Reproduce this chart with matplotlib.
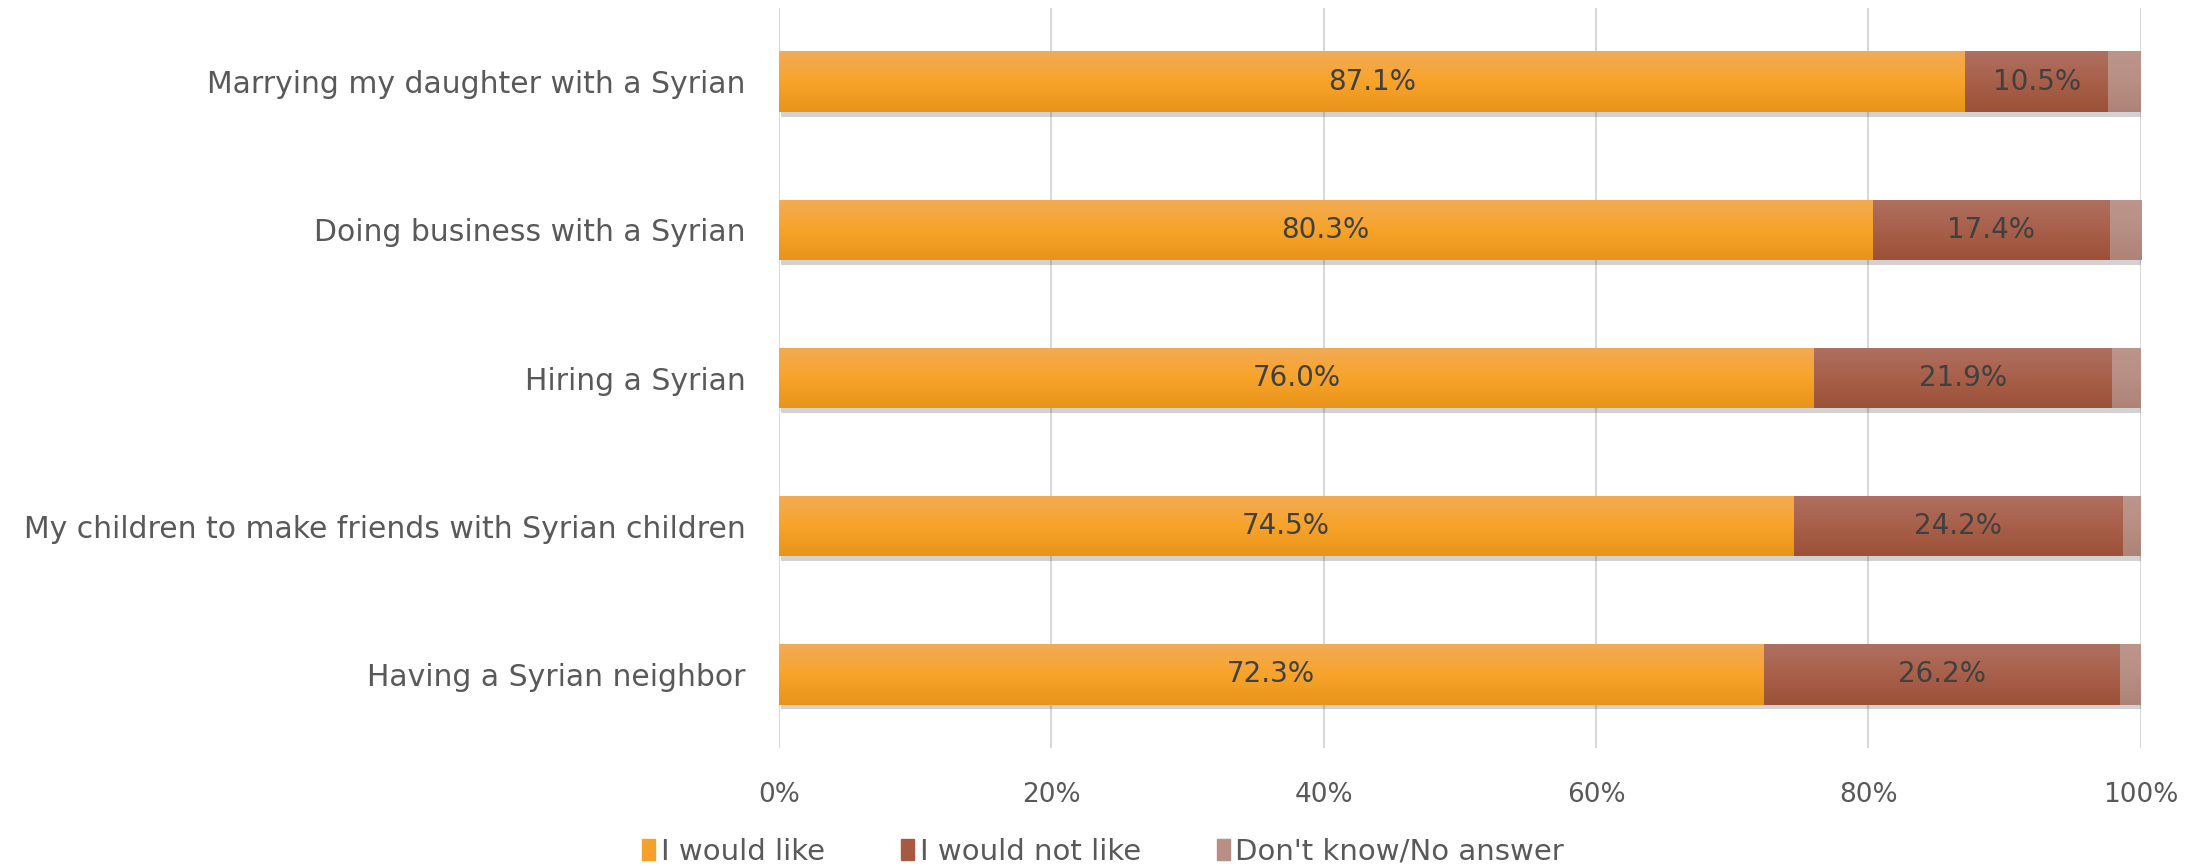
"""
Stacked horizontal bar chart: attitudes towards Syrians (share of answers).
"""
import numpy as np
import matplotlib.pyplot as plt
import matplotlib.patheffects as pe
from matplotlib.colors import LinearSegmentedColormap

# Data (top to bottom as in the chart)
categories = ['Marrying my daughter with a Syrian',
              'Doing business with a Syrian',
              'Hiring a Syrian',
              'My children to make friends with Syrian children',
              'Having a Syrian neighbor']
would_like = [87.1, 80.3, 76.0, 74.5, 72.3]
would_not_like = [10.5, 17.4, 21.9, 24.2, 26.2]
dont_know = [2.4, 2.3, 2.1, 1.3, 1.5]
series_names = ['I would like', 'I would not like', "Don't know/No answer"]
x_ticks = [0, 20, 40, 60, 80, 100]

# Gradient colours per series (top, middle, bottom)
gradients = [['#F2AB55', '#F8A42A', '#E8941A'],
             ['#AF7060', '#A8604A', '#9C5038'],
             ['#BC958B', '#B88F84', '#AE8277']]
flat_colors = ['#F5A02A', '#A65A42', '#B88F84']

plt.rcParams['font.family'] = ['DejaVu Sans']
fig = plt.figure(figsize=(22.06, 8.66), dpi=100)
ax = fig.add_axes([0.353, 0.136, 0.6175, 0.855])

y = np.arange(len(categories))[::-1]
bar_h = 0.41
left = np.zeros(len(categories))
for name, vals, grad, col in zip(series_names, [would_like, would_not_like, dont_know],
                                 gradients, flat_colors):
    bars = ax.barh(y, vals, left=left, height=bar_h, color=col, label=name, zorder=3,
                   path_effects=[pe.SimplePatchShadow(offset=(1.5, -3.5), alpha=0.22,
                                                      shadow_rgbFace='#333333'),
                                 pe.Normal()])
    cmap = LinearSegmentedColormap.from_list(name, grad)
    grad_img = np.linspace(0, 1, 64).reshape(-1, 1)
    for b in bars:
        x0, y0 = b.get_x(), b.get_y()
        im = ax.imshow(grad_img, cmap=cmap, aspect='auto', zorder=4,
                       extent=[x0, x0 + b.get_width(), y0, y0 + b.get_height()],
                       interpolation='bicubic')
        im.set_clip_path(b)
    if name != series_names[2]:
        for b, v in zip(bars, vals):
            ax.text(b.get_x() + b.get_width() / 2, b.get_y() + b.get_height() / 2,
                    f'{v:.1f}%', ha='center', va='center', fontsize=20,
                    color='#404040', zorder=5)
    left += np.array(vals)

ax.set_xlim(0, 100)
ax.set_ylim(-0.5, len(categories) - 0.5)
ax.set_yticks(y)
ax.set_yticklabels(categories, fontsize=21.5, color='#595959')
ax.set_xticks(x_ticks)
ax.set_xticklabels([f'{t}%' for t in x_ticks], fontsize=19, color='#595959')
ax.tick_params(axis='y', length=0, pad=24)
ax.tick_params(axis='x', length=0, pad=24)
ax.grid(axis='x', color='#D9D9D9', linewidth=1.5, zorder=0)
for s in ax.spines.values():
    s.set_visible(False)

handles = [plt.Rectangle((0, 0), 1, 1, color=c) for c in flat_colors]
fig.legend(handles, series_names, loc='lower center', bbox_to_anchor=(0.5, -0.03),
           ncol=3, frameon=False, fontsize=21, labelcolor='#595959',
           handlelength=0.45, handleheight=0.75, handletextpad=0.2, columnspacing=2.6)

plt.savefig('out.png', dpi=100, facecolor='white')
